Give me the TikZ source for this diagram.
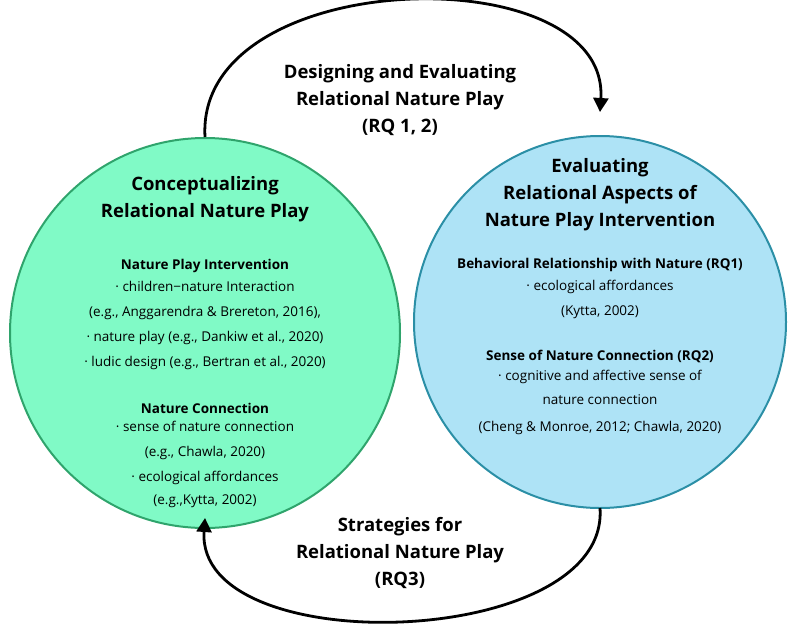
\documentclass[tikz,border=0pt]{standalone}
\usepackage{fontspec}
\setmainfont{Open Sans}
\usetikzlibrary{positioning,arrows.meta}
\definecolor{leaffill}{HTML}{80FAC6}
\definecolor{leafline}{HTML}{2FA46C}
\definecolor{skyfill}{HTML}{AEE3F6}
\definecolor{skyline}{HTML}{2B8FA6}
\tikzset{
  head/.style={font=\fontsize{18.5}{27}\selectfont\bfseries,align=center},
  sub/.style={font=\fontsize{13.5}{18}\selectfont\bfseries,align=center},
  item/.style={font=\fontsize{13.5}{17}\selectfont,align=center},
  loop/.style={line width=2.8pt,-{Triangle[length=14pt,width=15pt]}}
}
\begin{document}
\begin{tikzpicture}[x=1pt,y=-1pt]
  \useasboundingbox (0,0) rectangle (800,632);
  % circles
  \node[circle,draw=leafline,fill=leaffill,line width=2pt,minimum size=390pt] (lc) at (205,333) {};
  \node[circle,draw=skyline,fill=skyfill,line width=2pt,minimum size=372pt] (rc) at (600,322) {};
  \coordinate (ltop) at (205,137);
  \coordinate (rtop) at (600,112);
  \coordinate (rbot) at (600,508);
  \coordinate (lbot) at (205,518);
  % loops
  \draw[loop] (ltop) .. controls (195,-35) and (610,-45) .. (rtop);
  \draw[loop] (rbot) .. controls (610,650) and (195,662) .. (lbot);
  % labels on loops
  \node[head] (top) at (400,100) {Designing and Evaluating\\Relational Nature Play\\(RQ 1, 2)};
  \node[head] (bot) at (400,553) {Strategies for\\Relational Nature Play\\(RQ3)};
  % left circle
  \node[head] (ltitle) at (205,199) {Conceptualizing\\Relational Nature Play};
  \node[sub] (lsub1) at (205,266) {Nature Play Intervention};
  \node[item,below=1pt of lsub1] (litem1) {· children−nature Interaction\\[8pt](e.g., Anggarendra \& Brereton, 2016),\\[8pt]· nature play (e.g., Dankiw et al., 2020)\\[8pt]· ludic design (e.g., Bertran et al., 2020)};
  \node[sub] (lsub2) at (205,408) {Nature Connection};
  \node[item,below=1pt of lsub2] (litem2) {· sense of nature connection\\[8pt](e.g., Chawla, 2020)\\[8pt]· ecological affordances\\[6pt](e.g.,Kytta, 2002)};
  % right circle
  \node[head] (rtitle) at (600,195) {Evaluating\\Relational Aspects of\\Nature Play Intervention};
  \node[sub] (rsub1) at (600,265) {Behavioral Relationship with Nature (RQ1)};
  \node[item,below=1pt of rsub1] (ritem1) {· ecological affordances\\[8pt](Kytta, 2002)};
  \node[sub] (rsub2) at (600,356) {Sense of Nature Connection (RQ2)};
  \node[item,below=1pt of rsub2] (ritem2) {· cognitive and affective sense of\\[7pt]nature connection\\[10pt](Cheng \& Monroe, 2012; Chawla, 2020)};
\end{tikzpicture}
\end{document}
